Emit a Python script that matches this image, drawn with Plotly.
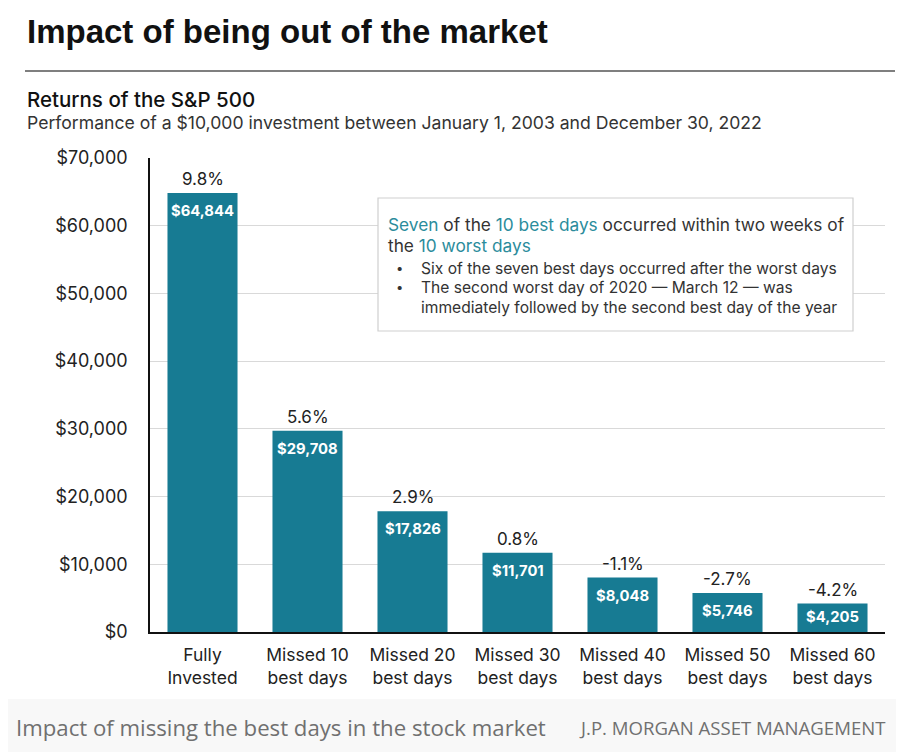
import plotly.graph_objects as go

categories = ["Fully<br>Invested", "Missed 10<br>best days", "Missed 20<br>best days",
              "Missed 30<br>best days", "Missed 40<br>best days", "Missed 50<br>best days",
              "Missed 60<br>best days"]
values = [64844, 29708, 17826, 11701, 8048, 5746, 4205]
returns = ["9.8%", "5.6%", "2.9%", "0.8%", "-1.1%", "-2.7%", "-4.2%"]
y_ticks = [0, 10000, 20000, 30000, 40000, 50000, 60000, 70000]
y_tick_labels = ["$0", "$10,000", "$20,000", "$30,000", "$40,000", "$50,000", "$60,000", "$70,000"]

OFF = 8  # page body margin
W, H = 904 - OFF, 752 - OFF
L, R, T, B = 150, 885, 158, 632  # plot area in screen pixels
YMAX = 70000
BAR = "#177b93"
TEAL = "#2b8c9c"
TFONT = "Liberation Sans, Arial, sans-serif"
FONT = "Inter, sans-serif"


def px(x):
    return (x - L) / (R - L)


def py(y):
    return (B - y) / (B - T)


fig = go.Figure()
fig.add_trace(go.Bar(
    x=categories, y=values, width=0.667, marker=dict(color=BAR, line=dict(width=0)),
    hoverinfo="skip",
))

annotations = []
for c, v, r in zip(categories, values, returns):
    bar_px = v / YMAX * (B - T)
    annotations.append(dict(x=c, y=v, xref="x", yref="y", text=r, showarrow=False,
                            yanchor="bottom", yshift=2,
                            font=dict(size=17, color="#222", family=FONT)))
    annotations.append(dict(x=c, y=v, xref="x", yref="y", text="<b>$" + format(v, ",") + "</b>",
                            showarrow=False, yanchor="middle", yshift=-min(18, bar_px / 2 - 1),
                            font=dict(size=14.8, color="white", family=FONT)))

# titles
annotations += [
    dict(x=px(25), y=py(31), xref="paper", yref="paper", xanchor="left", yanchor="middle",
         text="<b>Impact of being out of the market</b>", showarrow=False,
         font=dict(size=33, color="#111", family=TFONT)),
    dict(x=px(25), y=py(100), xref="paper", yref="paper", xanchor="left", yanchor="middle",
         text="Returns of the S&P 500", showarrow=False,
         font=dict(size=20.5, color="#111", family=FONT, weight=500)),
    dict(x=px(25), y=py(123), xref="paper", yref="paper", xanchor="left", yanchor="middle",
         text="Performance of a $10,000 investment between January 1, 2003 and December 30, 2022",
         showarrow=False, font=dict(size=17.6, color="#333", family=FONT)),
    dict(x=px(14), y=py(727), xref="paper", yref="paper", xanchor="left", yanchor="middle",
         text="Impact of missing the best days in the stock market", showarrow=False,
         font=dict(size=22.2, color="#707070", family="Open Sans, sans-serif")),
    dict(x=px(888), y=py(727), xref="paper", yref="paper", xanchor="right", yanchor="middle",
         text="J.P. MORGAN ASSET MANAGEMENT", showarrow=False,
         font=dict(size=18.6, color="#707070", family="Open Sans, sans-serif")),
]

# callout box text
box_lines = [
    (386, 224, f"<span style='color:{TEAL}'>Seven</span> of the <span style='color:{TEAL}'>10 best days</span> occurred within two weeks of"),
    (386, 246, f"the <span style='color:{TEAL}'>10 worst days</span>"),
    (419, 268, "Six of the seven best days occurred after the worst days"),
    (419, 287, "The second worst day of 2020 — March 12 — was"),
    (419, 307, "immediately followed by the second best day of the year"),
]
for i, (x, y, t) in enumerate(box_lines):
    size = 17.3 if i < 2 else 15.6
    annotations.append(dict(x=px(x), y=py(y), xref="paper", yref="paper", xanchor="left",
                            yanchor="middle", text=t, showarrow=False,
                            font=dict(size=size, color="#333", family=FONT)))
for y in (268, 287):
    annotations.append(dict(x=px(399), y=py(y), xref="paper", yref="paper", xanchor="center",
                            yanchor="middle", text="•", showarrow=False,
                            font=dict(size=13, color="#333", family=FONT)))

shapes = [
    dict(type="line", xref="paper", yref="paper", x0=px(25), x1=px(895), y0=py(71), y1=py(71),
         line=dict(color="#555", width=1.5)),
    dict(type="rect", xref="paper", yref="paper", x0=px(0), x1=px(904), y0=py(699), y1=py(760),
         fillcolor="#f8f8f8", line=dict(width=0), layer="below"),
    dict(type="rect", xref="paper", yref="paper", x0=px(378), x1=px(853), y0=py(198), y1=py(331),
         fillcolor="white", line=dict(color="#cfcfcf", width=1.2), layer="above"),
]

fig.update_layout(
    width=W, height=H,
    margin=dict(l=L - OFF, r=W - (R - OFF), t=T - OFF, b=H - (B - OFF), pad=0),
    paper_bgcolor="white", plot_bgcolor="white", showlegend=False, bargap=0.333,
    annotations=annotations, shapes=shapes,
    font=dict(family=FONT, color="#222"),
    xaxis=dict(showline=True, linecolor="#111", linewidth=1.5, ticks="", showgrid=False,
               ticklabelstandoff=6,
               tickfont=dict(size=17.5, color="#222", family=FONT), fixedrange=True),
    yaxis=dict(range=[0, YMAX], tickvals=y_ticks, ticktext=y_tick_labels, showline=True,
               linecolor="#111", linewidth=1.5, gridcolor="#d9d9d9", gridwidth=1,
               ticks="", ticklabelstandoff=17, zeroline=False,
               tickfont=dict(size=18, color="#222", family=FONT), fixedrange=True),
)

fig.write_html("out.html")
